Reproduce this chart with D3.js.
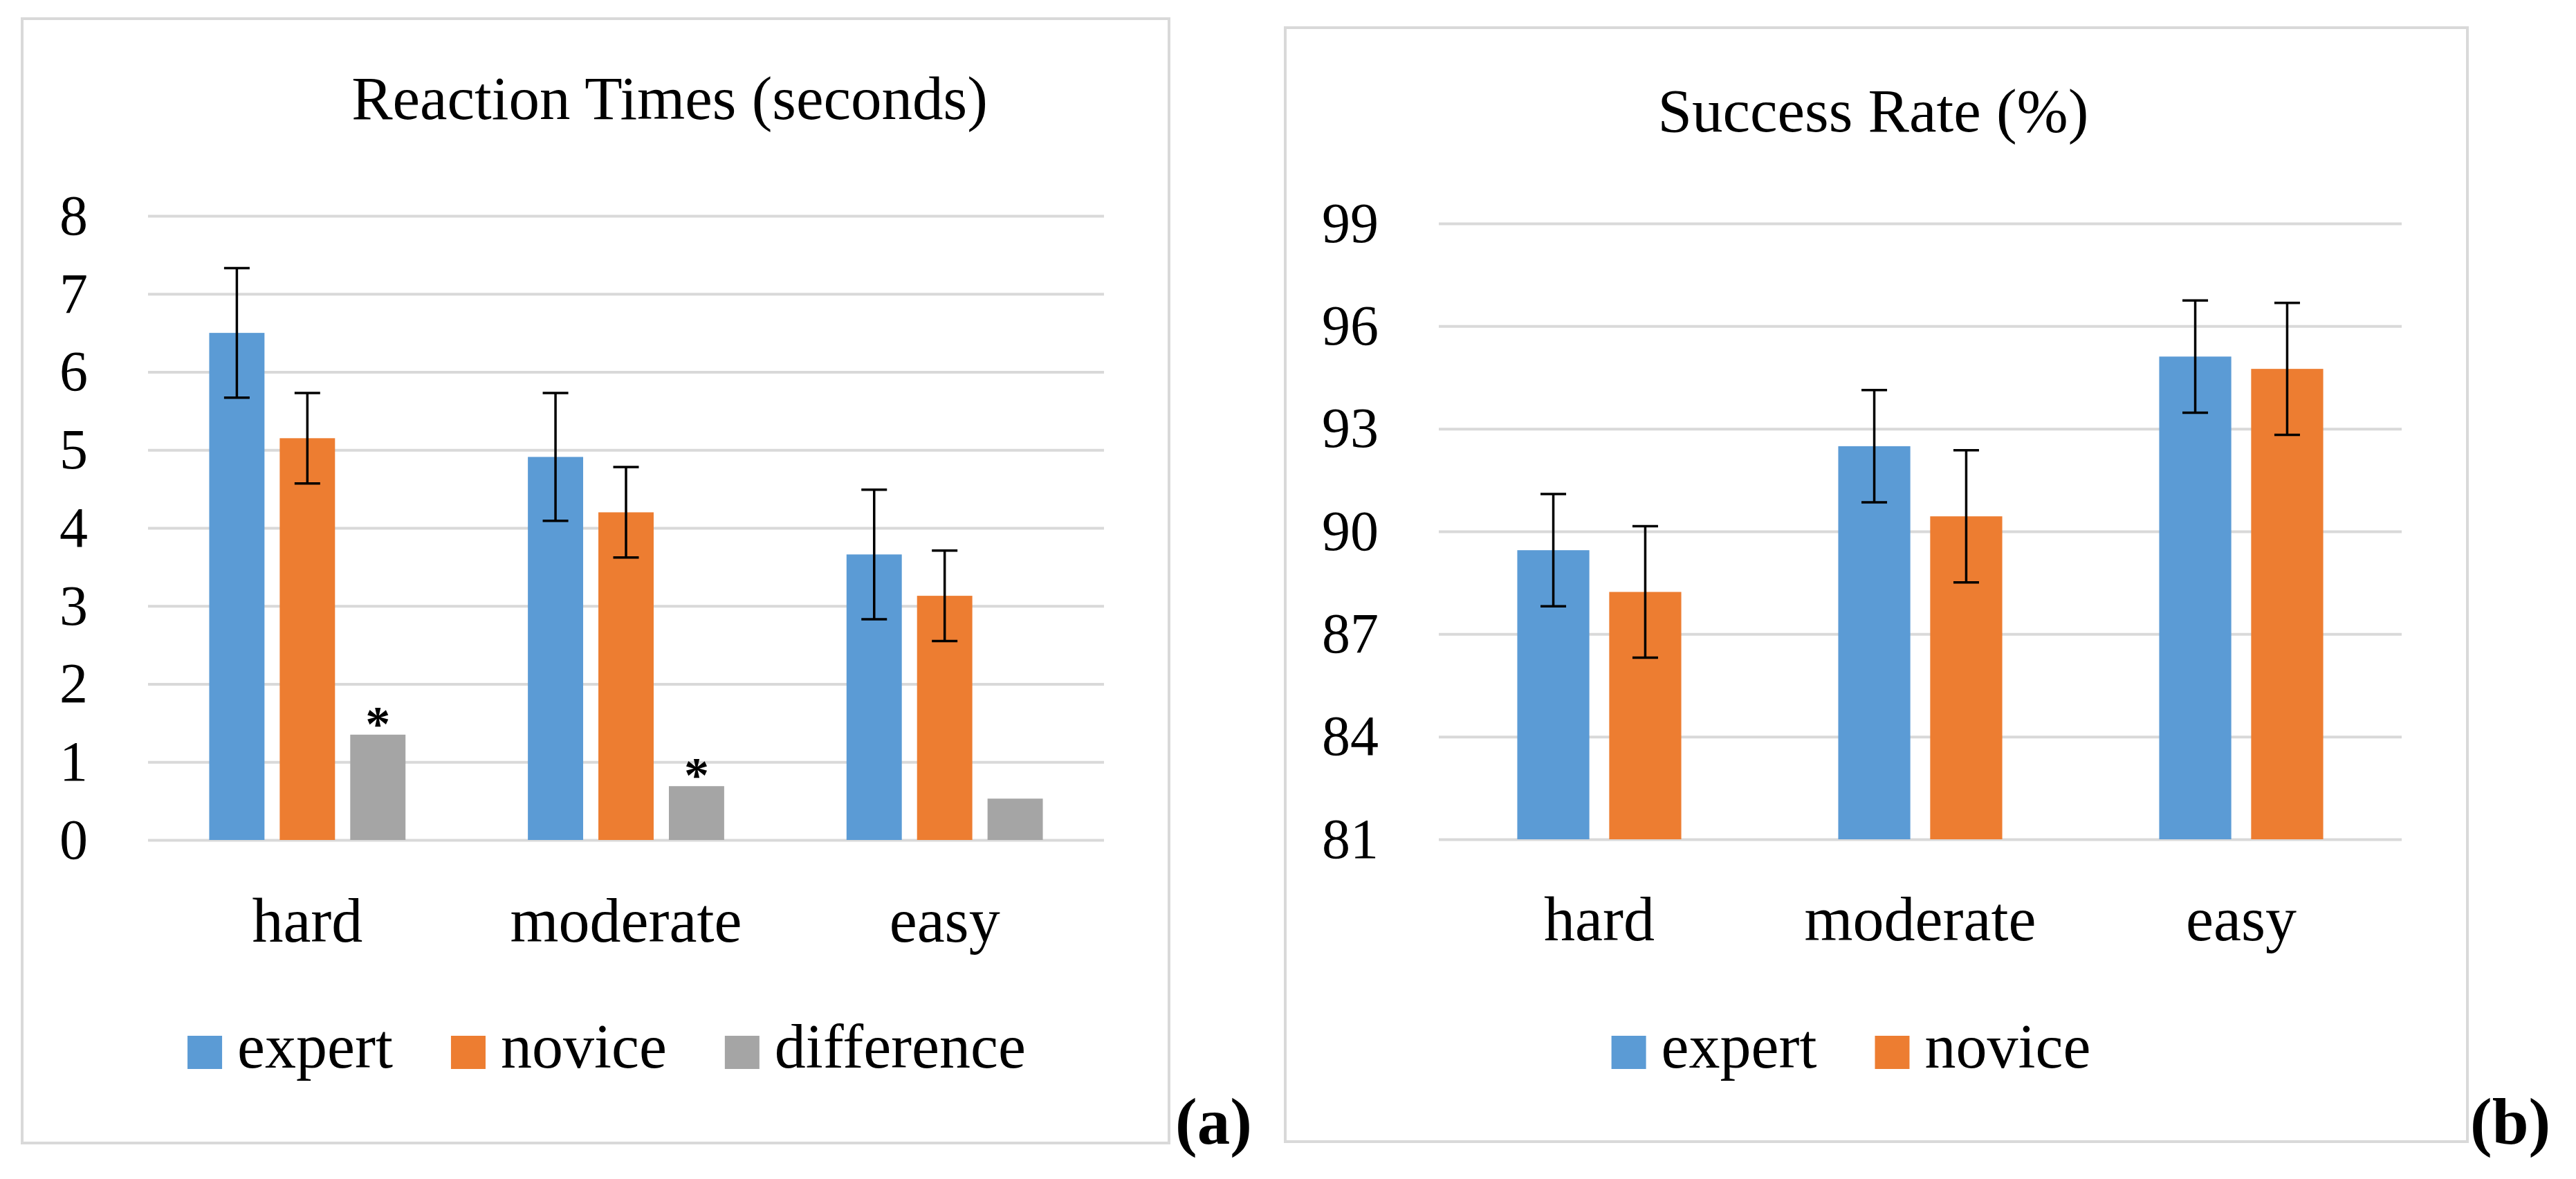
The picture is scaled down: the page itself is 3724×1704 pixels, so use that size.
<!DOCTYPE html>
<html lang="en">
<head>
<meta charset="utf-8">
<style type="text/css">
    body { margin: 0; background: #ffffff; }
    text { font-family: "Palatino Linotype", Palatino, "Book Antiqua", "Liberation Serif", serif; fill: #000; }
    .grid line { stroke: #d9d9d9; stroke-width: 4; }
    .grid path { display: none; }
</style>
<script src="https://cdn.jsdelivr.net/npm/d3@7"></script>
</head>
<body>
<script>
    // ---- data ----
    const levels = ["hard", "moderate", "easy"];

    // (a) reaction times, seconds
    const rtSeries = ["expert", "novice", "difference"];
    const rtExpert = [6.50, 4.91, 3.66];
    const rtExpertErr = [0.83, 0.82, 0.83];
    const rtNovice = [5.15, 4.20, 3.13];
    const rtNoviceErr = [0.58, 0.58, 0.58];
    const rtDiff = [1.35, 0.69, 0.53];
    const rtDiffMark = ["*", "*", ""];
    const rtTicks = [0, 1, 2, 3, 4, 5, 6, 7, 8];

    // (b) success rate, %
    const srSeries = ["expert", "novice"];
    const srExpert = [89.45, 92.49, 95.11];
    const srExpertErr = [1.64, 1.64, 1.64];
    const srNovice = [88.23, 90.44, 94.75];
    const srNoviceErr = [1.92, 1.93, 1.93];
    const srTicks = [81, 84, 87, 90, 93, 96, 99];

    const colors = { expert: "#5b9bd5", novice: "#ed7d31", difference: "#a5a5a5" };

    let w = 3724, h = 1704;

    let svg = d3.select("body")
        .append("svg")
        .attr("width", w)
        .attr("height", h)
        .style("display", "block");

    svg.append("rect").attr("width", w).attr("height", h).attr("fill", "#fff");

    function drawPanel(p) {
        let g = svg.append("g");

        // frame
        g.append("rect")
            .attr("x", p.box[0]).attr("y", p.box[1])
            .attr("width", p.box[2] - p.box[0]).attr("height", p.box[3] - p.box[1])
            .attr("fill", "none")
            .attr("stroke", "#d9d9d9")
            .attr("stroke-width", 4);

        g.append("text")
            .attr("x", p.titleX).attr("y", p.titleY)
            .attr("text-anchor", "middle")
            .style("font-size", "89px")
            .text(p.title);

        let x0 = d3.scaleBand()
            .domain(levels)
            .range([p.left, p.right])
            .paddingInner(p.groupPad)
            .paddingOuter(p.groupPad / 2);

        let x1 = d3.scaleBand()
            .domain(p.series)
            .range([0, x0.bandwidth()])
            .paddingInner(0.216);

        let y = d3.scaleLinear()
            .domain(p.domain)
            .range([p.bottom, p.top]);

        // gridlines + tick labels
        let yAxis = g.append("g")
            .attr("class", "grid")
            .attr("transform", `translate(${p.left},0)`)
            .call(d3.axisLeft(y).tickValues(p.ticks).tickSize(-(p.right - p.left)).tickPadding(87));
        yAxis.selectAll("text").style("font-size", "82px");

        let xAxis = g.append("g")
            .attr("transform", `translate(0,${p.bottom})`)
            .call(d3.axisBottom(x0).tickSize(0).tickPadding(p.labelOffset));
        xAxis.select(".domain").remove();
        xAxis.selectAll("text").attr("dy", "0").style("font-size", "90px");

        let rows = [];
        p.series.forEach((s, k) => {
            levels.forEach((lv, i) => {
                rows.push({
                    level: lv, series: s,
                    value: p.values[k][i],
                    err: p.errors[k] ? p.errors[k][i] : null,
                    mark: p.marks[k] ? p.marks[k][i] : ""
                });
            });
        });

        let cx = d => x0(d.level) + x1(d.series) + x1.bandwidth() / 2;

        g.selectAll("rect.bar")
            .data(rows)
            .join("rect")
            .attr("class", "bar")
            .attr("x", d => x0(d.level) + x1(d.series))
            .attr("y", d => y(d.value))
            .attr("width", x1.bandwidth())
            .attr("height", d => y(p.domain[0]) - y(d.value))
            .attr("fill", d => colors[d.series]);

        let withErr = rows.filter(d => d.err !== null);
        let eb = g.selectAll("g.err")
            .data(withErr)
            .join("g")
            .attr("class", "err")
            .attr("stroke", "#000")
            .attr("stroke-width", 3.5);
        eb.append("line")
            .attr("x1", cx).attr("x2", cx)
            .attr("y1", d => y(d.value + d.err))
            .attr("y2", d => y(d.value - d.err));
        eb.append("line")
            .attr("x1", d => cx(d) - 18.5).attr("x2", d => cx(d) + 18.5)
            .attr("y1", d => y(d.value + d.err)).attr("y2", d => y(d.value + d.err));
        eb.append("line")
            .attr("x1", d => cx(d) - 18.5).attr("x2", d => cx(d) + 18.5)
            .attr("y1", d => y(d.value - d.err)).attr("y2", d => y(d.value - d.err));

        g.selectAll("text.mark")
            .data(rows.filter(d => d.mark))
            .join("text")
            .attr("class", "mark")
            .attr("x", cx)
            .attr("y", d => y(d.value) + 8)
            .attr("text-anchor", "middle")
            .style("font-size", "72px")
            .style("font-weight", "bold")
            .text(d => d.mark);

        // legend
        let legend = g.append("g");
        let items = p.series.map(s => {
            let it = legend.append("g");
            it.append("rect")
                .attr("x", 0).attr("y", p.legendY - 46)
                .attr("width", 50).attr("height", 48)
                .attr("fill", colors[s]);
            let t = it.append("text")
                .attr("x", 72).attr("y", p.legendY)
                .style("font-size", "90px")
                .text(s);
            return { it, width: 72 + t.node().getComputedTextLength() };
        });
        let gap = 84;
        let total = d3.sum(items, d => d.width) + gap * (items.length - 1);
        let pos = p.legendCx - total / 2;
        items.forEach(d => {
            d.it.attr("transform", `translate(${pos},0)`);
            pos += d.width + gap;
        });

        g.append("text")
            .attr("x", p.tagX).attr("y", 1653)
            .style("font-size", "95px")
            .style("font-weight", "bold")
            .text(p.tag);
    }

    drawPanel({
        box: [32, 27, 1690, 1652],
        title: "Reaction Times (seconds)", titleX: 968, titleY: 172,
        left: 214, right: 1596, top: 312, bottom: 1214,
        domain: [0, 8], ticks: rtTicks,
        groupPad: 0.384, labelOffset: 147,
        series: rtSeries,
        values: [rtExpert, rtNovice, rtDiff],
        errors: [rtExpertErr, rtNoviceErr, null],
        marks: [null, null, rtDiffMark],
        legendCx: 877, legendY: 1543,
        tag: "(a)", tagX: 1699
    });

    drawPanel({
        box: [1858, 40, 3567, 1650],
        title: "Success Rate (%)", titleX: 2708, titleY: 190,
        left: 2080, right: 3472, top: 323, bottom: 1213,
        domain: [81, 99], ticks: srTicks,
        groupPad: 0.489, labelOffset: 146,
        series: srSeries,
        values: [srExpert, srNovice],
        errors: [srExpertErr, srNoviceErr],
        marks: [null, null],
        legendCx: 2676, legendY: 1543,
        tag: "(b)", tagX: 3571
    });
</script>
</body>
</html>
